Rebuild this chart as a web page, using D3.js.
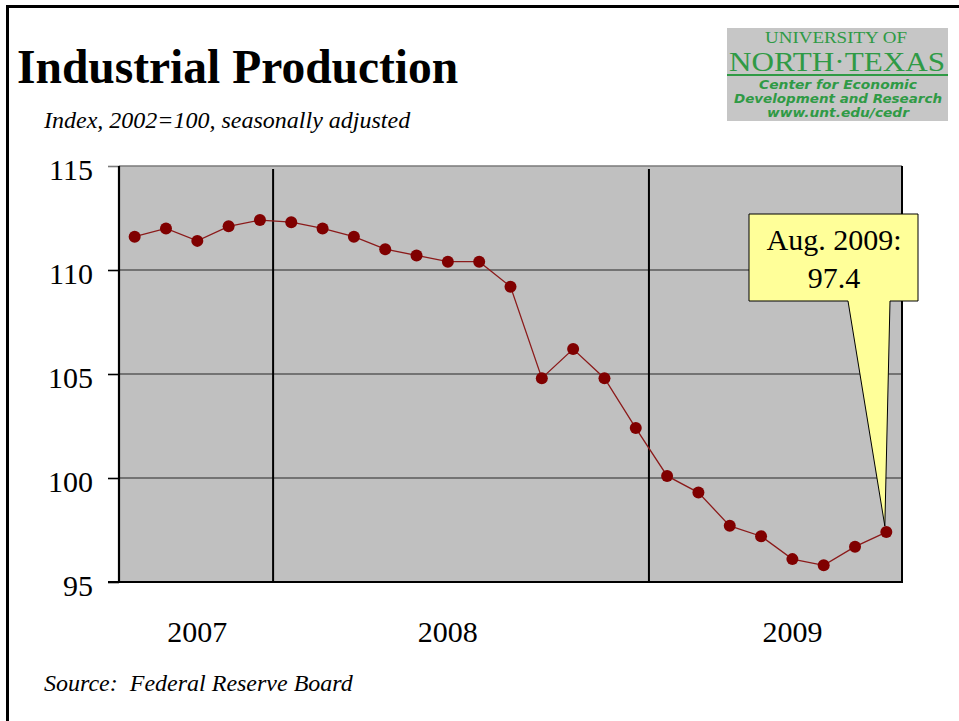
<!DOCTYPE html>
<html><head><meta charset="utf-8">
<script src="https://cdn.jsdelivr.net/npm/d3@7/dist/d3.min.js"></script>
<style>body{margin:0;background:#fff;} svg{display:block;} text{font-family:"Liberation Serif","Times New Roman",serif;}</style>
</head><body>
<svg id="c" width="959" height="721"></svg>
<script>
const months = ["Aug 2007","Sep 2007","Oct 2007","Nov 2007","Dec 2007","Jan 2008","Feb 2008","Mar 2008","Apr 2008","May 2008","Jun 2008","Jul 2008","Aug 2008","Sep 2008","Oct 2008","Nov 2008","Dec 2008","Jan 2009","Feb 2009","Mar 2009","Apr 2009","May 2009","Jun 2009","Jul 2009","Aug 2009"];
const values = [111.6,112.0,111.4,112.1,112.4,112.3,112.0,111.6,111.0,110.7,110.4,110.4,109.2,104.8,106.2,104.8,102.4,100.1,99.3,97.7,97.2,96.1,95.8,96.7,97.4];
const yTicks = [95,100,105,110,115];
const yearLabels = ["2007","2008","2009"];
const yearLabelAt = ["Oct 2007","Jun 2008","May 2009"];
const yearStarts = ["Jan 2008","Jan 2009"];
const calloutLines = ["Aug. 2009:","97.4"];

const svg = d3.select("#c");
const L=119, R=902, T=166, B=582;
const x = d3.scaleBand().domain(months).range([L,R]).padding(0);
const y = d3.scaleLinear().domain([95,115]).range([B,T]);
const cx = m => x(m)+x.bandwidth()/2;

// frame
svg.append("line").attr("x1",7.5).attr("x2",7.5).attr("y1",5).attr("y2",721).attr("stroke","#000").attr("stroke-width",3);
svg.append("line").attr("x1",6).attr("x2",959).attr("y1",6.5).attr("y2",6.5).attr("stroke","#000").attr("stroke-width",3);

// title
svg.append("text").attr("x",17).attr("y",83).attr("font-size",47.5).attr("font-weight","bold").text("Industrial Production");
svg.append("text").attr("x",44).attr("y",128).attr("font-size",24).attr("font-style","italic").text("Index, 2002=100, seasonally adjusted");
svg.append("text").attr("x",44).attr("y",691).attr("font-size",24).attr("font-style","italic").attr("xml:space","preserve").style("white-space","pre").text("Source:  Federal Reserve Board");

// logo
const g = svg.append("g");
const green="#2f9a45";
g.append("rect").attr("x",727).attr("y",28).attr("width",221).attr("height",93).attr("fill","#c6c6c6");
g.append("text").attr("x",836).attr("y",43).attr("text-anchor","middle").attr("font-size",17).attr("fill",green).attr("textLength",142).attr("lengthAdjust","spacingAndGlyphs").text("UNIVERSITY OF");
g.append("text").attr("x",837).attr("y",71).attr("text-anchor","middle").attr("font-size",27).attr("fill",green).attr("textLength",216).attr("lengthAdjust","spacingAndGlyphs").text("NORTH·TEXAS");
g.append("line").attr("x1",727).attr("x2",948).attr("y1",75).attr("y2",75).attr("stroke",green).attr("stroke-width",2);
const logoSans = [["Center for Economic",89,158],["Development and Research",103,208],["www.unt.edu/cedr",117,142]];
logoSans.forEach(d=>{
  g.append("text").attr("x",838).attr("y",d[1]).attr("text-anchor","middle").attr("font-size",12).attr("font-weight","bold").attr("font-style","italic")
   .style("font-family","'DejaVu Sans',Verdana,sans-serif").attr("fill",green).attr("textLength",d[2]).attr("lengthAdjust","spacingAndGlyphs").text(d[0]);
});

// plot background
svg.append("rect").attr("x",L).attr("y",T).attr("width",R-L).attr("height",B-T).attr("fill","#c0c0c0");

// gridlines
svg.append("g").selectAll("line").data(yTicks.filter(v=>v>95)).join("line")
  .attr("x1",L).attr("x2",R).attr("y1",d=>y(d)).attr("y2",d=>y(d))
  .attr("stroke",d=>d===115?"#7a7a7a":"#5a5a5a").attr("stroke-width",1.6);

// year separators
svg.append("g").selectAll("line").data(yearStarts).join("line")
  .attr("x1",d=>x(d)-2.5).attr("x2",d=>x(d)-2.5).attr("y1",T+3).attr("y2",B)
  .attr("stroke","#000").attr("stroke-width",2);

// axes
const yAxis = d3.axisLeft(y).tickValues(yTicks).tickSize(11).tickFormat(d3.format("d"));
const ya = svg.append("g").attr("transform",`translate(${L},0)`).call(yAxis);
ya.select(".domain").remove();
ya.selectAll(".tick line").attr("stroke",d=>d===115?"#7a7a7a":"#000").attr("stroke-width",1.6);
ya.selectAll(".tick text").attr("x",-26).attr("dy",null).attr("y",13).attr("font-size",30).attr("fill","#000").style("font-family","'Liberation Serif','Times New Roman',serif");
svg.append("line").attr("x1",L).attr("x2",L).attr("y1",T).attr("y2",B).attr("stroke","#000").attr("stroke-width",2.2);
svg.append("line").attr("x1",R).attr("x2",R).attr("y1",T).attr("y2",B).attr("stroke","#000").attr("stroke-width",2);
svg.append("line").attr("x1",108).attr("x2",R+1).attr("y1",B).attr("y2",B).attr("stroke","#000").attr("stroke-width",2);

// year labels
svg.append("g").selectAll("text").data(yearLabels).join("text")
  .attr("x",(d,i)=>cx(yearLabelAt[i])).attr("y",642).attr("text-anchor","middle").attr("font-size",30).text(d=>d);

// line + points
const data = months.map((m,i)=>({m,v:values[i]}));
svg.append("path").datum(data).attr("fill","none").attr("stroke","#8b1a1a").attr("stroke-width",1.3)
  .attr("d",d3.line().x(d=>cx(d.m)).y(d=>y(d.v)));
svg.append("g").selectAll("circle").data(data).join("circle")
  .attr("cx",d=>cx(d.m)).attr("cy",d=>y(d.v)).attr("r",6).attr("fill","#800000");

// callout
const last = data[data.length-1];
const tx = cx(last.m)-1.5, ty = y(last.v)-6;
svg.append("path").attr("d",`M749,214 H918 V301 H890 L${tx},${ty} L848,301 H749 Z`)
  .attr("fill","#ffff99").attr("stroke","#000").attr("stroke-width",1);
svg.append("g").selectAll("text").data(calloutLines).join("text")
  .attr("x",834).attr("y",(d,i)=>250+i*38).attr("text-anchor","middle").attr("font-size",30).text(d=>d);
</script>
</body></html>
